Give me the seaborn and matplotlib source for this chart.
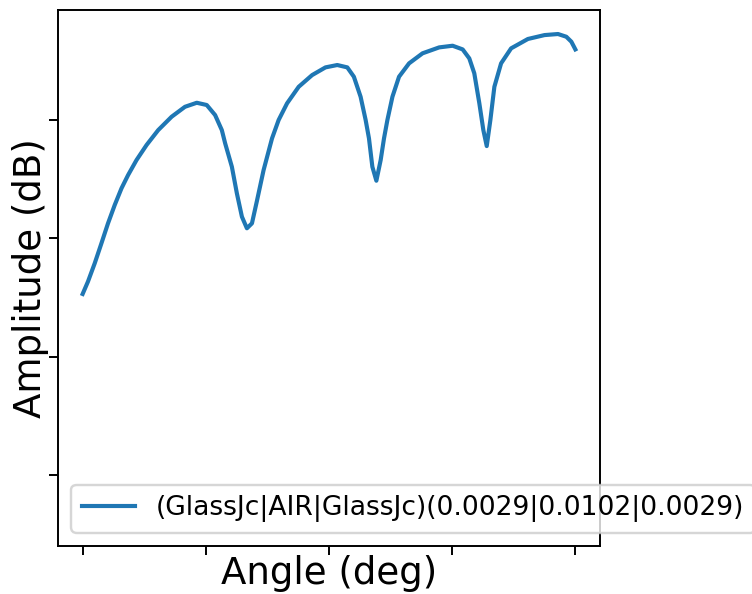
import matplotlib
matplotlib.use("Agg")
import matplotlib.pyplot as plt
import seaborn as sns
import pandas as pd

# angle (deg) and amplitude (dB)
angle = [0.0, 0.86, 1.96, 3.05, 4.12, 5.21, 6.31, 7.38, 8.75, 10.38, 12.27, 14.45,
         16.62, 18.53, 20.15, 21.51, 22.60, 23.14, 24.23, 25.04, 25.86, 26.67,
         27.49, 28.30, 29.38, 30.75, 31.82, 33.19, 35.08, 37.26, 39.43, 41.34,
         42.97, 44.04, 45.13, 45.95, 46.49, 47.04, 47.69, 48.39, 48.93, 49.48,
         50.30, 51.37, 53.00, 55.19, 57.89, 60.07, 61.70, 62.78, 63.59, 64.41,
         65.06, 65.61, 66.20, 66.85, 67.94, 69.57, 72.29, 74.99, 77.18, 78.53,
         79.35, 80.0]
amplitude = [-14.70, -13.66, -12.11, -10.42, -8.73, -7.18, -5.77, -4.65, -3.38,
             -2.11, -0.85, 0.28, 1.12, 1.46, 1.27, 0.42, -0.85, -1.97, -3.95,
             -6.19, -8.17, -9.15, -8.73, -6.83, -4.23, -1.55, 0.0, 1.41, 2.81,
             3.80, 4.45, 4.65, 4.45, 3.66, 1.97, 0.0, -1.55, -3.95, -5.13, -3.38,
             -1.55, 0.0, 1.97, 3.66, 4.79, 5.64, 6.14, 6.28, 5.97, 5.21, 3.95,
             1.41, -0.85, -2.20, 0.0, 2.81, 4.79, 6.06, 6.85, 7.18, 7.27, 7.04,
             6.62, 5.97]

series_label = "(GlassJc|AIR|GlassJc)(0.0029|0.0102|0.0029)"
xtick_vals = [0, 20, 40, 60, 80]
ytick_vals = [-30, -20, -10, 0]

df = pd.DataFrame({"angle": angle, "amp": amplitude})

dpi = 175
fig = plt.figure(figsize=(753 / dpi, 594 / dpi), dpi=dpi)
ax = fig.add_axes([58 / 753, 48 / 594, 542 / 753, 536 / 594])

sns.lineplot(data=df, x="angle", y="amp", ax=ax, color="#1f77b4",
             linewidth=1.7, label=series_label)

ax.set_xticks(xtick_vals)
ax.set_yticks(ytick_vals)
ax.set_ylim(-36.0, 9.3)
# tick marks stay, numbers hidden
ax.tick_params(labelleft=False, labelbottom=False)

ax.set_xlabel("Angle (deg)", fontsize=15.3, labelpad=0)
ax.set_ylabel("Amplitude (dB)", fontsize=15.3, labelpad=0)
ax.legend(loc="lower left", fontsize=10.9)

fig.savefig("out.png", dpi=dpi)
